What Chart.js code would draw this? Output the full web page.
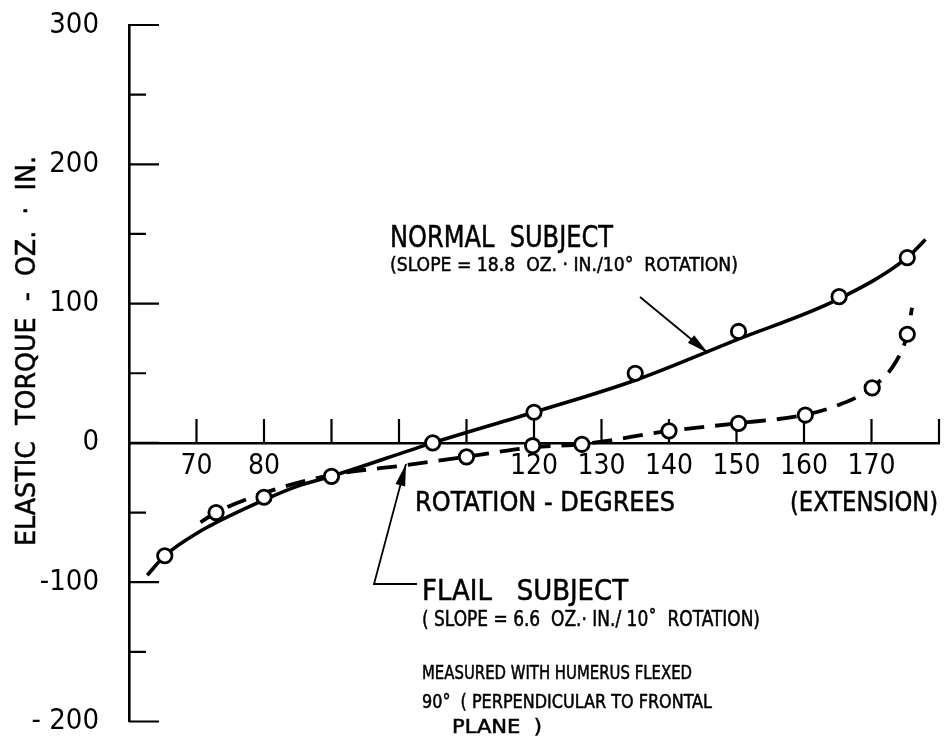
<!DOCTYPE html>
<html>
<head>
<meta charset="utf-8">
<script src="https://cdn.jsdelivr.net/npm/chart.js@4.4.1/dist/chart.umd.min.js"></script>
<style>
  html, body { margin: 0; padding: 0; background: #fff; }
  #wrap { width: 949px; height: 738px; }
</style>
</head>
<body>
<div id="wrap"><canvas id="chart-js"></canvas></div>
<script>
// solid curve (normal subject)
const normalCurveX = [62.7, 65.3, 70, 80, 85, 90, 105, 120, 135, 150, 165, 175.3, 178];
const normalCurveY = [-95, -81, -65, -41, -31, -24, 0, 22, 45, 74, 103, 133, 146];
// measured points, normal subject
const normalPtsX = [65.3, 80, 90, 105, 120, 135, 150.3, 165.2, 175.3];
const normalPtsY = [-81, -39, -24, 0, 22, 50, 80, 105, 133];

// dashed curve (flail subject)
const flailCurveX = [70.6, 72.9, 80, 90, 101, 110, 120, 127, 140, 150, 160, 165, 170, 173.7, 175.3, 176];
const flailCurveY = [-57, -50, -36, -23, -16, -10, -3, -1, 8.6, 14, 20, 27, 39.5, 59, 78, 97];
// measured points, flail subject
const flailPtsX = [72.9, 110, 119.8, 127.1, 140, 150.3, 160.2, 170.1, 175.3];
const flailPtsY = [-50, -10, -2, -1, 8.6, 14, 20, 39.5, 78];

// axis labels
const xLabelVals = [70, 80, 120, 130, 140, 150, 160, 170];
const yLabelVals = [-200, -100, 0, 100, 200, 300];
const yLabelText = ['- 200', '-100', '0', '100', '200', '300'];

const FAMILY = "'Liberation Sans Narrow', 'DejaVu Sans Condensed', 'Roboto Condensed', sans-serif";

const pts = (xs, ys) => xs.map((x, i) => ({ x: x, y: ys[i] }));

// tick marks point inward (up from the zero line, right from the y axis)
const tickMarks = {
  id: 'tickMarks',
  beforeDatasetsDraw(chart) {
    const { ctx, chartArea, scales: { x, y } } = chart;
    const y0 = y.getPixelForValue(0);
    ctx.save();
    ctx.strokeStyle = '#000';
    ctx.lineWidth = 2.2;
    ctx.beginPath();
    x.ticks.forEach(t => {
      if (t.value <= x.min) return;
      const px = x.getPixelForValue(t.value);
      ctx.moveTo(px, y0);
      ctx.lineTo(px, y0 - 24);
    });
    y.ticks.forEach(t => {
      const py = y.getPixelForValue(t.value);
      const len = t.value % 100 === 0 ? 30 : 17;
      ctx.moveTo(chartArea.left, py);
      ctx.lineTo(chartArea.left + len, py);
    });
    ctx.stroke();
    ctx.restore();
  }
};

function fitText(ctx, str, x, y, size, width, rot) {
  ctx.save();
  ctx.font = size + 'px ' + FAMILY;
  const w = ctx.measureText(str).width;
  ctx.translate(x, y);
  if (rot) ctx.rotate(rot);
  ctx.scale(width / w, 1);
  ctx.fillText(str, 0, 0);
  ctx.lineWidth = 0.5;
  ctx.strokeText(str, 0, 0);
  ctx.restore();
}

function arrow(ctx, path, headLen, headW) {
  ctx.beginPath();
  ctx.moveTo(path[0][0], path[0][1]);
  for (let i = 1; i < path.length; i++) ctx.lineTo(path[i][0], path[i][1]);
  ctx.stroke();
  const [ax, ay] = path[path.length - 2];
  const [bx, by] = path[path.length - 1];
  const a = Math.atan2(by - ay, bx - ax);
  ctx.beginPath();
  ctx.moveTo(bx, by);
  ctx.lineTo(bx - headLen * Math.cos(a) + headW * Math.sin(a), by - headLen * Math.sin(a) - headW * Math.cos(a));
  ctx.lineTo(bx - headLen * Math.cos(a) - headW * Math.sin(a), by - headLen * Math.sin(a) + headW * Math.cos(a));
  ctx.closePath();
  ctx.fill();
}

const notes = {
  id: 'notes',
  afterDatasetsDraw(chart) {
    const ctx = chart.ctx;
    ctx.save();
    ctx.fillStyle = '#000';
    ctx.strokeStyle = '#000';
    ctx.textBaseline = 'alphabetic';
    ctx.textAlign = 'left';

    fitText(ctx, 'ELASTIC  TORQUE  -  OZ.  \u00b7  IN.', 35, 546, 27, 390, -Math.PI / 2);

    fitText(ctx, 'NORMAL  SUBJECT', 390, 247, 30, 223);
    fitText(ctx, '(SLOPE = 18.8  OZ. \u00b7 IN./10\u00b0  ROTATION)', 390, 271, 20, 348);

    fitText(ctx, 'ROTATION - DEGREES', 415, 511, 27, 260);
    fitText(ctx, '(EXTENSION)', 790, 511, 27, 148);

    fitText(ctx, 'FLAIL   SUBJECT', 422, 600, 29, 206);
    fitText(ctx, '( SLOPE = 6.6  OZ.\u00b7 IN./ 10\u02da  ROTATION)', 422, 626, 21, 338);
    fitText(ctx, 'MEASURED WITH HUMERUS FLEXED', 422, 679, 19, 270);
    fitText(ctx, '90\u00b0  ( PERPENDICULAR TO FRONTAL', 422, 708, 19, 290);
    fitText(ctx, 'PLANE  )', 452, 733, 19, 90);

    ctx.lineWidth = 1.8;
    arrow(ctx, [[640, 297], [708, 353]], 22, 5);
    arrow(ctx, [[417, 584], [374, 584], [406, 464]], 22, 5);
    ctx.restore();
  }
};

const ctx = document.getElementById('chart-js').getContext('2d');

new Chart(ctx, {
  type: 'scatter',
  data: {
    datasets: [
      {
        label: 'Normal subject (measured)',
        data: pts(normalPtsX, normalPtsY),
        showLine: false,
        pointRadius: 7.2,
        pointBorderWidth: 2.8,
        pointBackgroundColor: '#fff',
        pointBorderColor: '#000',
        order: 0
      },
      {
        label: 'Flail subject (measured)',
        data: pts(flailPtsX, flailPtsY),
        showLine: false,
        pointRadius: 7.2,
        pointBorderWidth: 2.8,
        pointBackgroundColor: '#fff',
        pointBorderColor: '#000',
        order: 0
      },
      {
        label: 'Normal subject',
        data: pts(normalCurveX, normalCurveY),
        showLine: true,
        pointRadius: 0,
        borderColor: '#000',
        borderWidth: 3.6,
        cubicInterpolationMode: 'monotone',
        order: 1
      },
      {
        label: 'Flail subject',
        data: pts(flailCurveX, flailCurveY),
        showLine: true,
        pointRadius: 0,
        borderColor: '#000',
        borderWidth: 3.8,
        borderDash: [20, 11],
        cubicInterpolationMode: 'monotone',
        order: 1
      }
    ]
  },
  options: {
    responsive: true,
    maintainAspectRatio: false,
    animation: false,
    events: [],
    layout: { padding: { left: 0, right: 4, top: 25, bottom: 16 } },
    plugins: {
      legend: { display: false },
      tooltip: { enabled: false }
    },
    scales: {
      x: {
        type: 'linear',
        min: 60,
        max: 180,
        position: { y: 0 },
        grid: { drawOnChartArea: false, drawTicks: false },
        border: { display: true, color: '#000', width: 2.6 },
        ticks: {
          stepSize: 10,
          autoSkip: false,
          maxRotation: 0,
          padding: 7,
          color: '#000',
          font: { family: FAMILY, size: 28 },
          callback: v => xLabelVals.includes(v) ? String(v) : ''
        }
      },
      y: {
        type: 'linear',
        min: -200,
        max: 300,
        position: 'left',
        afterFit: s => { s.width = 129; },
        grid: { drawOnChartArea: false, drawTicks: true, tickLength: 28, tickColor: 'rgba(0,0,0,0)' },
        border: { display: true, color: '#000', width: 2.6 },
        ticks: {
          stepSize: 50,
          autoSkip: false,
          padding: 2,
          color: '#000',
          font: { family: FAMILY, size: 29, lineHeight: 1 },
          callback: v => {
            const i = yLabelVals.indexOf(v);
            return i >= 0 ? yLabelText[i] : '';
          }
        }
      }
    }
  },
  plugins: [tickMarks, notes]
});
</script>
</body>
</html>
